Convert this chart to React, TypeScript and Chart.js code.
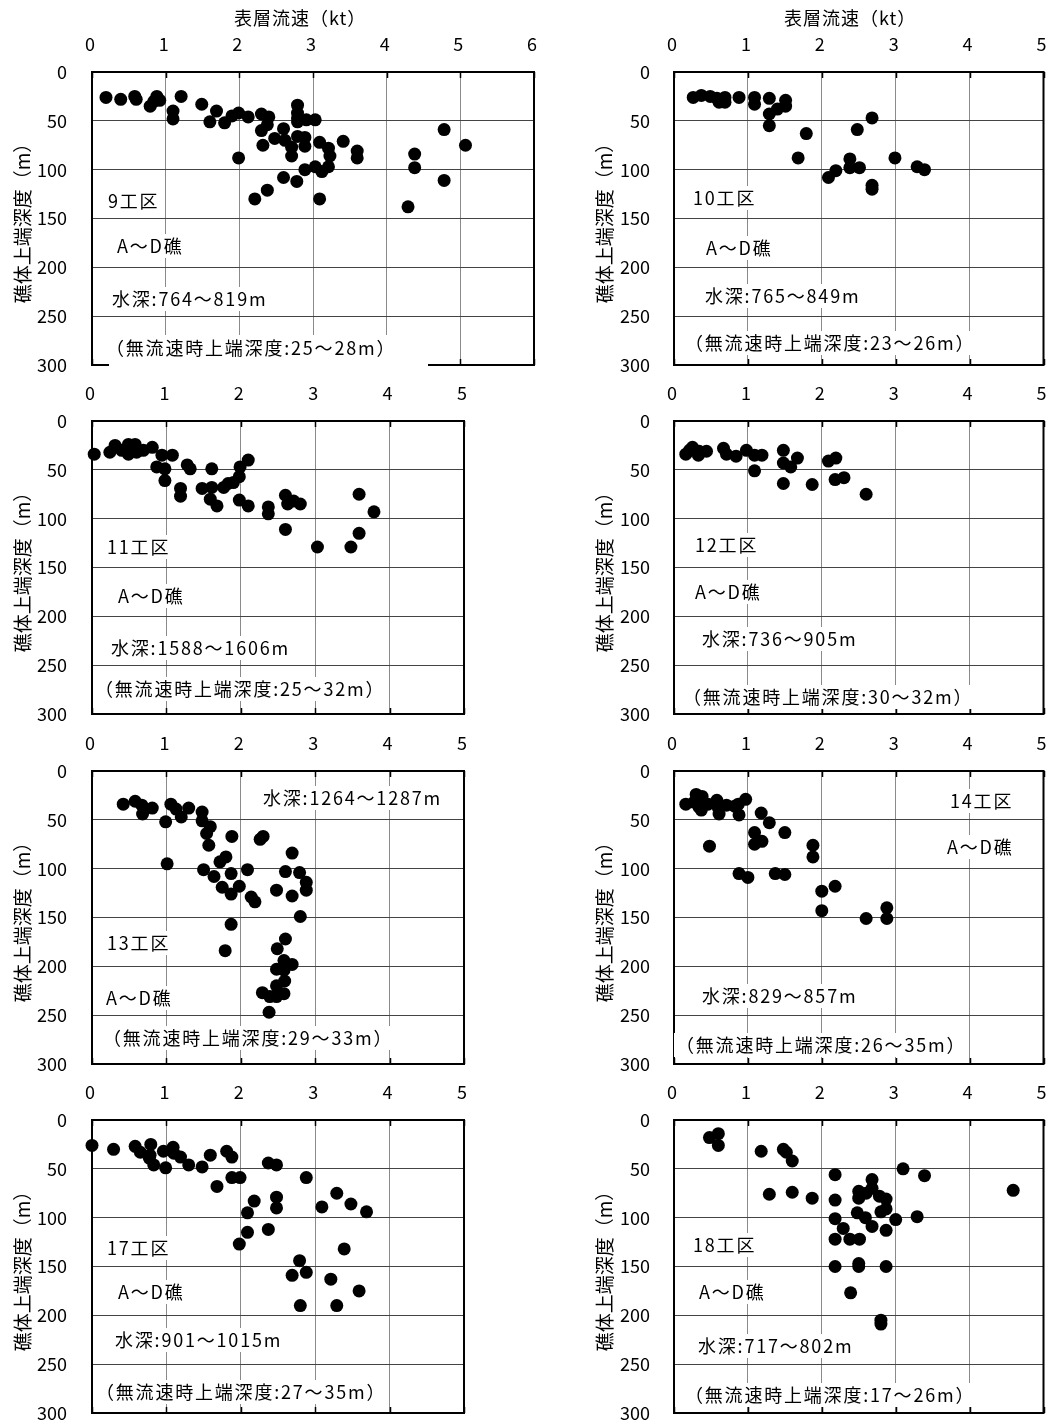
import React, { useEffect, useRef } from "react";
import { Chart, registerables } from "chart.js";

Chart.register(...registerables);

const FONT = "'Noto Sans CJK JP', 'Noto Sans', sans-serif";

// ---- tick values ----
const xTicks6 = [0, 1, 2, 3, 4, 5, 6];
const xTicks5 = [0, 1, 2, 3, 4, 5];
const yTicks = [0, 50, 100, 150, 200, 250, 300];

// ---- 9工区 ----
const speed09 = [0.19, 0.39, 0.58, 0.6, 0.88, 0.84, 0.79, 0.92, 1.1, 1.1, 1.21, 1.49, 1.6, 1.69, 1.8, 1.9, 1.99, 2.12, 1.99, 2.3, 2.4, 2.3, 2.38, 2.32, 2.48, 2.6, 2.62, 2.71, 2.71, 2.79, 2.79, 2.79, 2.79, 2.91, 3.03, 2.79, 2.89, 2.89, 3.09, 3.21, 3.23, 3.21, 3.12, 3.03, 2.89, 2.6, 2.78, 2.38, 2.21, 3.09, 3.41, 3.6, 3.6, 4.29, 4.38, 4.38, 4.78, 4.78, 5.07];
const depth09 = [26, 28, 25, 28, 25, 30, 35, 29, 40, 48, 25, 33, 51, 40, 52, 45, 42, 46, 88, 43, 46, 60, 54, 75, 68, 58, 70, 77, 86, 34, 42, 47, 51, 49, 49, 66, 67, 76, 72, 78, 86, 97, 102, 97, 100, 108, 112, 121, 130, 130, 71, 81, 88, 138, 84, 98, 59, 111, 75];

// ---- 10工区 ----
const speed10 = [0.26, 0.37, 0.49, 0.58, 0.61, 0.69, 0.69, 0.88, 1.09, 1.09, 1.29, 1.29, 1.29, 1.4, 1.51, 1.51, 1.79, 1.68, 2.68, 2.48, 2.38, 2.38, 2.51, 2.19, 2.09, 2.68, 2.68, 2.99, 3.29, 3.39];
const depth10 = [26, 24, 25, 27, 31, 26, 31, 26, 26, 33, 27, 43, 55, 38, 29, 35, 63, 88, 47, 59, 89, 98, 98, 101, 108, 116, 120, 88, 97, 100];

// ---- 11工区 ----
const speed11 = [0.03, 0.24, 0.31, 0.4, 0.49, 0.49, 0.58, 0.6, 0.69, 0.81, 0.87, 0.94, 0.98, 0.98, 1.08, 1.28, 1.32, 1.19, 1.19, 1.48, 1.61, 1.61, 1.59, 1.68, 1.77, 1.83, 1.9, 1.99, 1.98, 2.1, 1.98, 2.1, 2.37, 2.37, 2.6, 2.63, 2.71, 2.8, 2.6, 3.03, 3.48, 3.59, 3.59, 3.79];
const depth11 = [34, 32, 25, 30, 24, 34, 24, 32, 30, 27, 47, 35, 49, 61, 35, 45, 49, 69, 77, 69, 49, 68, 80, 87, 68, 64, 63, 47, 57, 40, 81, 87, 88, 95, 76, 85, 82, 85, 111, 129, 129, 75, 115, 93];

// ---- 12工区 ----
const speed12 = [0.16, 0.21, 0.25, 0.33, 0.34, 0.44, 0.67, 0.71, 0.84, 0.98, 1.09, 1.19, 1.09, 1.48, 1.48, 1.58, 1.67, 1.48, 1.87, 2.09, 2.19, 2.18, 2.3, 2.6];
const depth12 = [34, 30, 27, 35, 31, 31, 28, 34, 36, 30, 35, 35, 51, 30, 43, 47, 38, 64, 65, 41, 38, 60, 58, 75];

// ---- 13工区 ----
const speed13 = [0.42, 0.58, 0.67, 0.68, 0.81, 0.99, 1.01, 1.06, 1.13, 1.2, 1.3, 1.48, 1.48, 1.59, 1.54, 1.57, 1.5, 1.64, 1.72, 1.8, 1.75, 1.87, 1.79, 1.87, 1.88, 1.87, 1.98, 2.09, 2.14, 2.19, 2.26, 2.3, 2.48, 2.6, 2.69, 2.69, 2.79, 2.88, 2.88, 2.8, 2.6, 2.49, 2.58, 2.69, 2.48, 2.58, 2.59, 2.48, 2.29, 2.39, 2.48, 2.58, 2.38];
const depth13 = [34, 31, 35, 44, 38, 52, 95, 34, 39, 47, 38, 42, 51, 57, 64, 76, 101, 108, 93, 88, 119, 126, 184, 157, 67, 105, 118, 101, 129, 134, 70, 67, 122, 103, 84, 128, 104, 114, 122, 149, 172, 182, 194, 198, 203, 204, 215, 220, 227, 231, 231, 228, 247];

// ---- 14工区 ----
const speed14 = [0.16, 0.3, 0.38, 0.27, 0.34, 0.37, 0.46, 0.58, 0.6, 0.61, 0.71, 0.82, 0.88, 0.87, 0.97, 0.48, 1.18, 1.29, 1.09, 1.09, 1.19, 1.5, 0.88, 1.0, 1.37, 1.5, 1.88, 1.88, 2.0, 2.0, 2.18, 2.6, 2.88, 2.88];
const depth14 = [34, 24, 26, 32, 37, 40, 34, 30, 38, 44, 35, 36, 45, 34, 29, 77, 43, 53, 63, 75, 72, 63, 105, 109, 105, 106, 76, 88, 123, 143, 118, 151, 140, 151];

// ---- 17工区 ----
const speed17 = [0.0, 0.29, 0.58, 0.65, 0.79, 0.78, 0.77, 0.83, 0.96, 0.99, 1.09, 1.1, 1.19, 1.3, 1.48, 1.59, 1.68, 1.81, 1.88, 1.88, 1.99, 1.98, 2.09, 2.09, 2.18, 2.37, 2.48, 2.37, 2.48, 2.48, 2.88, 2.69, 2.79, 2.88, 2.8, 3.09, 3.29, 3.48, 3.69, 3.39, 3.21, 3.59, 3.29];
const depth17 = [26, 30, 27, 33, 25, 36, 39, 46, 32, 49, 28, 34, 38, 46, 48, 36, 68, 32, 38, 59, 59, 127, 95, 115, 83, 44, 46, 112, 79, 90, 59, 159, 144, 156, 190, 89, 75, 86, 94, 132, 163, 175, 190];

// ---- 18工区 ----
const speed18 = [0.48, 0.6, 0.6, 1.18, 1.48, 1.52, 1.6, 1.29, 1.6, 1.87, 2.18, 2.18, 2.18, 2.18, 2.18, 2.29, 2.38, 2.51, 2.5, 2.5, 2.48, 2.59, 2.6, 2.68, 2.68, 2.68, 2.78, 2.8, 2.87, 2.87, 2.87, 3.0, 3.1, 3.39, 3.29, 2.39, 2.5, 2.5, 2.87, 2.8, 2.8, 4.59];
const depth18 = [18, 14, 26, 32, 30, 33, 42, 76, 74, 80, 56, 82, 101, 122, 150, 111, 122, 122, 73, 80, 95, 100, 75, 61, 70, 109, 78, 94, 81, 91, 113, 102, 50, 57, 99, 177, 147, 150, 150, 205, 209, 72];

// ---- in-panel texts: [text, x from plot left, y from plot top, optional white box] ----
type Note = [string, number, number, number[]?];
const notes09: Note[] = [
  ["9工区", 16, 129],
  ["A～D礁", 25, 174],
  ["水深:764～819m", 20, 227],
  ["（無流速時上端深度:25～28m）", 14, 276, [17, 263, 336, 297]],
];
const notes10: Note[] = [
  ["10工区", 19, 126],
  ["A～D礁", 32, 176],
  ["水深:765～849m", 31, 224],
  ["（無流速時上端深度:23～26m）", 11, 271],
];
const notes11: Note[] = [
  ["11工区", 15, 126],
  ["A～D礁", 26, 175],
  ["水深:1588～1606m", 19, 227],
  ["（無流速時上端深度:25～32m）", 3, 268],
];
const notes12: Note[] = [
  ["12工区", 21, 124],
  ["A～D礁", 21, 171],
  ["水深:736～905m", 28, 218],
  ["（無流速時上端深度:30～32m）", 9, 276],
];
const notes13: Note[] = [
  ["水深:1264～1287m", 171, 27],
  ["13工区", 15, 172],
  ["A～D礁", 14, 227],
  ["（無流速時上端深度:29～33m）", 11, 267],
];
const notes14: Note[] = [
  ["14工区", 276, 30],
  ["A～D礁", 273, 76],
  ["水深:829～857m", 28, 225],
  ["（無流速時上端深度:26～35m）", 2, 274],
];
const notes17: Note[] = [
  ["17工区", 15, 128],
  ["A～D礁", 26, 172],
  ["水深:901～1015m", 23, 220],
  ["（無流速時上端深度:27～35m）", 4, 272],
];
const notes18: Note[] = [
  ["18工区", 19, 125],
  ["A～D礁", 25, 172],
  ["水深:717～802m", 24, 226],
  ["（無流速時上端深度:17～26m）", 11, 275],
];

const X_TITLE = "表層流速（kt）";
const Y_TITLE = "礁体上端深度（m）";

type PanelCfg = {
  speed: number[];
  depth: number[];
  xTicks: number[];
  col: number;
  row: number;
  notes: Note[];
  title: boolean;
};

const panels: PanelCfg[] = [
  { speed: speed09, depth: depth09, xTicks: xTicks6, col: 0, row: 0, notes: notes09, title: true },
  { speed: speed10, depth: depth10, xTicks: xTicks5, col: 1, row: 0, notes: notes10, title: true },
  { speed: speed11, depth: depth11, xTicks: xTicks5, col: 0, row: 1, notes: notes11, title: false },
  { speed: speed12, depth: depth12, xTicks: xTicks5, col: 1, row: 1, notes: notes12, title: false },
  { speed: speed13, depth: depth13, xTicks: xTicks5, col: 0, row: 2, notes: notes13, title: false },
  { speed: speed14, depth: depth14, xTicks: xTicks5, col: 1, row: 2, notes: notes14, title: false },
  { speed: speed17, depth: depth17, xTicks: xTicks5, col: 0, row: 3, notes: notes17, title: false },
  { speed: speed18, depth: depth18, xTicks: xTicks5, col: 1, row: 3, notes: notes18, title: false },
];

// layout
const ROW_TOP = [72, 421, 771, 1120];
const PLOT_H = 293;
const AXIS_TOP_H = 72;
const CANVAS_H = 377;
const COL = [
  { cx: 0, w: 560, yAxisW: 92, tickPad: 25, titlePad: 11, titleX: 234 },
  { cx: 580, w: 470, yAxisW: 94, tickPad: 24, titlePad: 13, titleX: 204 },
];
const PLOT_RIGHT = [534, 464, 465]; // canvas-local right edge: 0-6 panel, other left panels, right column

function Panel({ cfg }: { cfg: PanelCfg }) {
  const ref = useRef<HTMLCanvasElement>(null);
  const col = COL[cfg.col];
  const top = ROW_TOP[cfg.row] - AXIS_TOP_H;

  useEffect(() => {
    const canvas = ref.current;
    if (!canvas) return;
    const xMax = cfg.xTicks[cfg.xTicks.length - 1];
    const plotRight = cfg.col === 1 ? PLOT_RIGHT[2] : xMax === 6 ? PLOT_RIGHT[0] : PLOT_RIGHT[1];
    const padRight = col.w - plotRight;
    const padBottom = CANVAS_H - AXIS_TOP_H - PLOT_H;

    const panelPlugin = {
      id: "panelDecor",
      beforeDatasetsDraw(chart: any) {
        const { ctx, chartArea, scales } = chart;
        const { left, top: t, right, bottom } = chartArea;
        ctx.save();
        // frame
        ctx.strokeStyle = "#000";
        ctx.lineWidth = 2;
        ctx.strokeRect(left, t, right - left, bottom - t);
        // inner tick marks
        ctx.lineWidth = 1.5;
        for (const v of cfg.xTicks) {
          const x = Math.round(scales.x.getPixelForValue(v)) + 0.5;
          ctx.beginPath();
          ctx.moveTo(x, t);
          ctx.lineTo(x, t + 6);
          ctx.moveTo(x, bottom);
          ctx.lineTo(x, bottom - 6);
          ctx.stroke();
        }
        // notes with white backgrounds
        ctx.font = `18px ${FONT}`;
        (ctx as any).letterSpacing = "1.8px";
        ctx.textAlign = "left";
        ctx.textBaseline = "middle";
        for (const n of cfg.notes) {
          const [text, nx, ny, box] = n;
          const w = ctx.measureText(text).width;
          const x = left + nx;
          const y = t + ny;
          ctx.fillStyle = "#fff";
          if (box) ctx.fillRect(left + box[0], t + box[1], box[2] - box[0], box[3] - box[1]);
          else ctx.fillRect(x - 2, y - 12, w + 2, 24);
          ctx.fillStyle = "#000";
          ctx.fillText(text, x, y);
        }
        ctx.restore();
      },
      afterDraw(chart: any) {
        if (!cfg.title) return;
        const { ctx } = chart;
        ctx.save();
        ctx.font = `18px ${FONT}`;
        (ctx as any).letterSpacing = "1px";
        ctx.fillStyle = "#000";
        ctx.textAlign = "left";
        ctx.textBaseline = "middle";
        ctx.fillText(X_TITLE, col.titleX, 18);
        ctx.restore();
      },
    };

    const chart = new Chart(canvas, {
      type: "scatter",
      data: {
        datasets: [
          {
            data: cfg.speed.map((s, i) => ({ x: s, y: cfg.depth[i] })),
            pointRadius: 6.5,
            pointHoverRadius: 6.5,
            pointBackgroundColor: "#000",
            pointBorderWidth: 0,
            showLine: false,
            clip: false as any,
          },
        ],
      },
      options: {
        responsive: false,
        animation: false,
        events: [],
        layout: { padding: { left: 0, right: padRight, top: 0, bottom: padBottom } },
        plugins: { legend: { display: false }, tooltip: { enabled: false } },
        scales: {
          x: {
            type: "linear",
            position: "top",
            min: 0,
            max: xMax,
            afterBuildTicks: (s: any) => {
              s.ticks = cfg.xTicks.map((v) => ({ value: v }));
            },
            ticks: {
              color: "#000",
              font: { family: FONT, size: 18 },
              padding: 17,
              labelOffset: -2,
              maxRotation: 0,
              autoSkip: false,
            },
            grid: { color: "#8a8a8a", lineWidth: 1, drawTicks: false },
            border: { display: false },
            afterFit: (s: any) => {
              s.height = AXIS_TOP_H;
              s.paddingLeft = 0;
              s.paddingRight = 0;
            },
          },
          y: {
            type: "linear",
            position: "left",
            reverse: true,
            min: 0,
            max: 300,
            afterBuildTicks: (s: any) => {
              s.ticks = yTicks.map((v) => ({ value: v }));
            },
            ticks: {
              color: "#000",
              font: { family: FONT, size: 18 },
              padding: col.tickPad,
            },
            grid: { color: "#444", lineWidth: 1, drawTicks: false },
            border: { display: false },
            title: {
              display: true,
              text: Y_TITLE,
              color: "#000",
              font: { family: FONT, size: 19 },
              padding: { top: col.titlePad, bottom: 0 },
            },
            afterFit: (s: any) => {
              s.width = col.yAxisW;
              s.paddingTop = 0;
              s.paddingBottom = 0;
            },
          },
        },
      } as any,
      plugins: [panelPlugin],
    });
    return () => chart.destroy();
  }, []);

  return (
    <canvas
      ref={ref}
      width={col.w}
      height={CANVAS_H}
      style={{ position: "absolute", left: col.cx, top, width: col.w, height: CANVAS_H }}
    />
  );
}

export default function App() {
  useEffect(() => {
    document.body.style.margin = "0";
    document.documentElement.style.overflow = "hidden";
  }, []);
  return (
    <div style={{ position: "relative", width: 1050, height: 1425, overflow: "hidden", background: "#fff" }}>
      {panels.map((p, i) => (
        <Panel key={i} cfg={p} />
      ))}
    </div>
  );
}
